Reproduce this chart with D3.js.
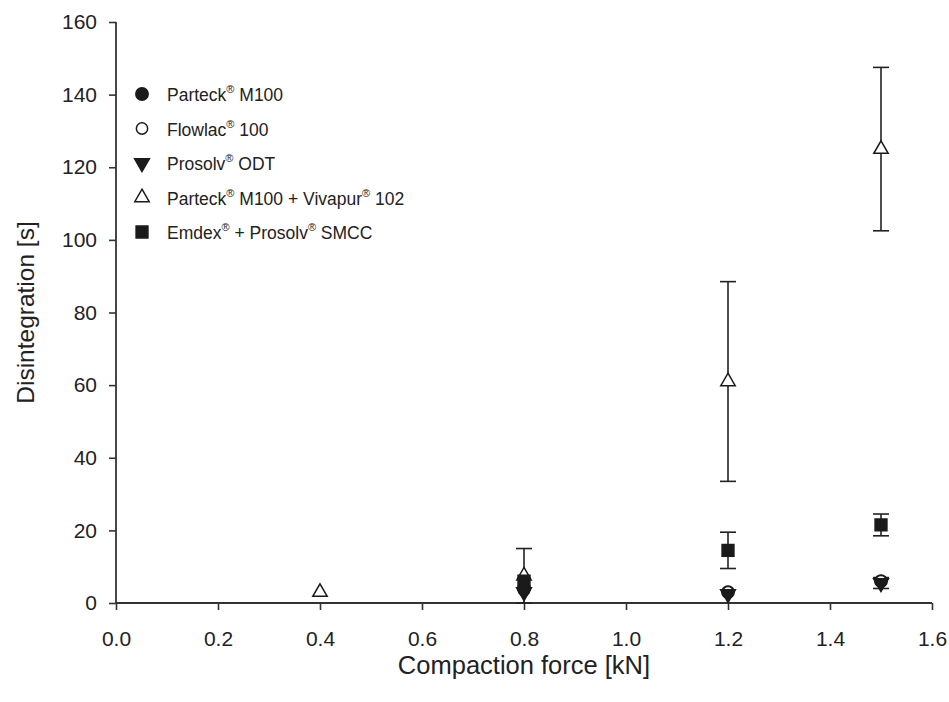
<!DOCTYPE html>
<html>
<head>
<meta charset="utf-8">
<script src="https://cdn.jsdelivr.net/npm/d3@7"></script>
<style>
  body { margin: 0; background: #fff; }
  text { font-family: "Liberation Sans", Arial, sans-serif; fill: #222; }
</style>
</head>
<body>
<div id="chart"></div>
<script>
// compaction force levels
var forces = [0.4, 0.8, 1.2, 1.5];

// mean disintegration time [s] per series, null = not measured
var parteckM100 = [null, 4, 3, 6];
var flowlac100 = [null, 3.5, 3, 6];
var prosolvODT = [null, 3, 2.5, 5.5];
var parteckVivapur = [3, 7.5, 61, 125];
var emdexSMCC = [null, 6, 14.5, 21.5];

// standard deviations (only visible ones)
var sdParteckVivapur = [0, 7.5, 27.5, 22.5];
var sdEmdexSMCC = [0, 0, 5, 3];
var sdSmall = [0, 0, 0, 1.5];

var xTicks = [0.0, 0.2, 0.4, 0.6, 0.8, 1.0, 1.2, 1.4, 1.6];
var yTicks = [0, 20, 40, 60, 80, 100, 120, 140, 160];

var series = [
  {label: "Parteck", sup: "®", rest: " M100", values: parteckM100, sd: null, symbol: d3.symbolCircle, fill: "#1a1a1a", size: 120},
  {label: "Flowlac", sup: "®", rest: " 100", values: flowlac100, sd: null, symbol: d3.symbolCircle, fill: "#fff", size: 100},
  {label: "Prosolv", sup: "®", rest: " ODT", values: prosolvODT, sd: sdSmall, symbol: "down", fill: "#1a1a1a", size: 95},
  {label: "Parteck", sup: "®", rest: " M100 + Vivapur", sup2: "®", rest2: " 102", values: parteckVivapur, sd: sdParteckVivapur, symbol: d3.symbolTriangle, fill: "#fff", size: 90},
  {label: "Emdex", sup: "®", rest: " + Prosolv", sup2: "®", rest2: " SMCC", values: emdexSMCC, sd: sdEmdexSMCC, symbol: d3.symbolSquare, fill: "#1a1a1a", size: 140}
];

var W = 949, H = 702;
var margin = {left: 116, top: 22, right: 17, bottom: 99};

var svg = d3.select("#chart").append("svg")
  .attr("width", W).attr("height", H);

var x = d3.scaleLinear().domain([0, 1.6]).range([margin.left, W - margin.right]);
var y = d3.scaleLinear().domain([0, 160]).range([H - margin.bottom, margin.top]);

var xAxis = svg.append("g")
  .attr("transform", "translate(0," + y(0) + ")")
  .call(d3.axisBottom(x).tickValues(xTicks).tickFormat(d3.format(".1f")).tickSize(7).tickPadding(21));
var yAxis = svg.append("g")
  .attr("transform", "translate(" + x(0) + ",0)")
  .call(d3.axisLeft(y).tickValues(yTicks).tickSize(7).tickPadding(12));

[xAxis, yAxis].forEach(function(g){
  g.select(".domain").attr("stroke", "#333").attr("stroke-width", 1.8);
  g.selectAll(".tick line").attr("stroke", "#333").attr("stroke-width", 1.6);
  g.selectAll(".tick text").style("font-size", "21px").attr("fill", "#222");
});
xAxis.select(".domain").attr("d", "M" + x(0) + ",0H" + x(1.6));
yAxis.select(".domain").attr("d", "M0," + y(160) + "V" + y(0));

svg.append("text")
  .attr("x", x(0.8)).attr("y", 674)
  .attr("text-anchor", "middle")
  .style("font-size", "25.5px")
  .text("Compaction force [kN]");

svg.append("text")
  .attr("transform", "translate(34," + y(80) + ") rotate(-90)")
  .attr("text-anchor", "middle")
  .style("font-size", "24.5px")
  .text("Disintegration [s]");

function symPath(s) {
  var type = s.symbol === "down" ? d3.symbolTriangle : s.symbol;
  return d3.symbol().type(type).size(s.size)();
}
function symTransform(s, px, py) {
  var t = "translate(" + px + "," + py + ")";
  if (s.symbol === "down") t += " rotate(180)";
  return t;
}

// error bars
var capW = 8;
series.forEach(function(s){
  if (!s.sd) return;
  var g = svg.append("g");
  forces.forEach(function(f, i){
    var v = s.values[i], e = s.sd[i];
    if (v === null || !e) return;
    var cx = x(f), top = y(v + e), bot = y(v - e);
    g.append("line").attr("x1", cx).attr("x2", cx).attr("y1", top).attr("y2", bot)
      .attr("stroke", "#222").attr("stroke-width", 1.6);
    [top, bot].forEach(function(yy){
      g.append("line").attr("x1", cx - capW).attr("x2", cx + capW).attr("y1", yy).attr("y2", yy)
        .attr("stroke", "#222").attr("stroke-width", 1.6);
    });
  });
});

// points
series.forEach(function(s){
  var g = svg.append("g");
  forces.forEach(function(f, i){
    var v = s.values[i];
    if (v === null) return;
    g.append("path")
      .attr("d", symPath(s))
      .attr("transform", symTransform(s, x(f), y(v)))
      .attr("fill", s.fill)
      .attr("stroke", "#1a1a1a")
      .attr("stroke-width", 1.5);
  });
});

// legend
var legend = svg.append("g");
series.forEach(function(s, i){
  var ly = 94 + i * 34.5;
  legend.append("path")
    .attr("d", symPath(s))
    .attr("transform", symTransform(s, 142, ly))
    .attr("fill", s.fill)
    .attr("stroke", "#1a1a1a")
    .attr("stroke-width", 1.5);
  var t = legend.append("text").attr("x", 167).attr("y", ly + 7).style("font-size", "17.5px");
  t.append("tspan").text(s.label);
  t.append("tspan").attr("dy", -8).style("font-size", "11px").text(s.sup);
  t.append("tspan").attr("dy", 8).text(s.rest);
  if (s.sup2) {
    t.append("tspan").attr("dy", -8).style("font-size", "11px").text(s.sup2);
    t.append("tspan").attr("dy", 8).text(s.rest2);
  }
});
</script>
</body>
</html>
